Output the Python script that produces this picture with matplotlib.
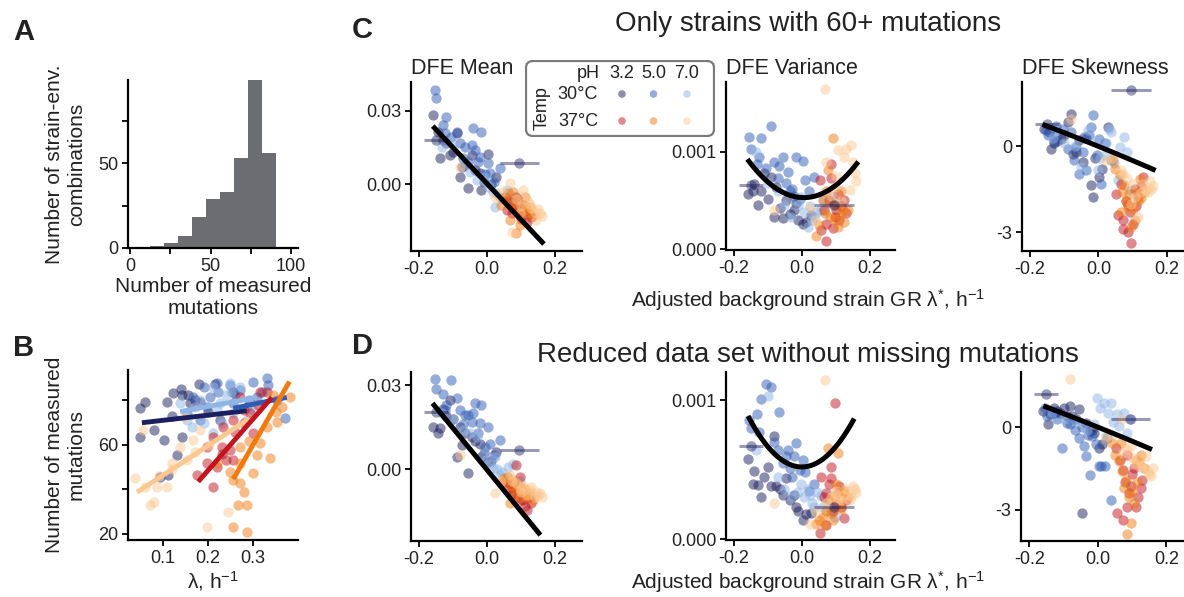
import numpy as np
import matplotlib
matplotlib.use('Agg')
import matplotlib.pyplot as plt
from matplotlib.patches import FancyBboxPatch

plt.rcParams['font.family'] = ['Liberation Sans', 'DejaVu Sans']
plt.rcParams['mathtext.default'] = 'regular'

# groups: temperature / pH
groups = ['30_3.2', '30_5.0', '30_7.0', '37_3.2', '37_5.0', '37_7.0']
colors = ['#1b1f5e', '#2f5bb5', '#8fb4e6', '#c0141f', '#f07a10', '#fcc891']

# A - histogram of number of measured mutations
hist_edges = [12.4, 21.1, 29.8, 38.5, 47.2, 55.9, 64.6, 73.3, 82.0, 90.7]
hist_counts = [1, 3, 7, 18, 29, 33, 53, 99, 56]

# B - background growth rate vs number of measured mutations
b_lam = {
    '30_3.2': [0.049, 0.060, 0.108, 0.123, 0.141, 0.156, 0.179, 0.216, 0.141, 0.101, 0.049, 0.079,
               0.182, 0.093, 0.112, 0.130, 0.160, 0.227, 0.256, 0.140, 0.170, 0.120, 0.200],
    '30_5.0': [0.190, 0.204, 0.223, 0.249, 0.271, 0.301, 0.330, 0.334, 0.308, 0.353, 0.371, 0.153,
               0.182, 0.256, 0.286, 0.197, 0.167, 0.220, 0.260, 0.320, 0.290],
    '30_7.0': [0.249, 0.271, 0.212, 0.190, 0.153, 0.182, 0.227, 0.256, 0.138, 0.301, 0.286, 0.219,
               0.241, 0.164, 0.250, 0.210, 0.170, 0.230],
    '37_3.2': [0.316, 0.330, 0.271, 0.256, 0.234, 0.212, 0.230, 0.249, 0.197, 0.219, 0.175, 0.212,
               0.279, 0.241, 0.256, 0.293, 0.197, 0.301, 0.260, 0.230, 0.280, 0.310],
    '37_5.0': [0.345, 0.382, 0.353, 0.364, 0.338, 0.308, 0.271, 0.256, 0.271, 0.279, 0.267, 0.286,
               0.256, 0.286, 0.249, 0.301, 0.219, 0.316, 0.330, 0.350, 0.290, 0.270],
    '37_7.0': [0.038, 0.060, 0.079, 0.071, 0.086, 0.119, 0.138, 0.153, 0.167, 0.182, 0.201, 0.197,
               0.245, 0.108, 0.056, 0.149, 0.120, 0.090, 0.170],
}
b_nmut = {
    '30_3.2': [76.5, 79.5, 79.5, 83.5, 82.5, 82.5, 87.4, 87.4, 63.7, 62.2, 63.4, 66.7, 79.5, 45.8,
               46.5, 55.5, 78.7, 71.2, 84.0, 85.0, 80.0, 73.0, 75.0],
    '30_5.0': [86.2, 81.7, 84.0, 87.0, 84.7, 88.5, 90.0, 87.0, 81.7, 80.2, 72.0, 74.2, 71.2, 78.7,
               77.2, 77.2, 81.7, 88.0, 83.0, 84.0, 80.0],
    '30_7.0': [87.7, 86.2, 65.2, 69.7, 71.2, 80.2, 78.7, 74.2, 78.7, 75.7, 71.2, 75.7, 82.5, 68.2,
               84.0, 86.0, 77.0, 70.0],
    '37_3.2': [84.0, 84.0, 81.7, 71.2, 68.2, 63.7, 59.3, 57.8, 51.8, 50.3, 46.5, 41.3, 75.7, 53.3,
               53.3, 74.2, 59.3, 65.2, 66.0, 56.0, 70.0, 78.0],
    '37_5.0': [82.5, 81.7, 70.5, 77.2, 54.0, 55.5, 59.3, 44.3, 42.8, 39.0, 33.0, 33.0, 23.3, 21.0,
               48.0, 47.3, 51.8, 60.7, 68.0, 75.0, 62.0, 52.0],
    '37_7.0': [45.0, 41.3, 34.5, 33.0, 41.3, 51.8, 59.3, 53.3, 62.2, 66.7, 60.0, 23.3, 30.0, 41.3,
               66.7, 72.7, 49.0, 46.0, 57.0],
}
# linear fits per group: slope, intercept, x range
b_fit_slope = [23.2, 41.2, 37.6, 231.1, 351.2, 132.5]
b_fit_icpt = [68.77, 65.95, 69.81, 2.36, -45.3, 33.19]
b_fit_lo = [0.053, 0.256, 0.138, 0.178, 0.256, 0.042]
b_fit_hi = [0.286, 0.375, 0.308, 0.342, 0.381, 0.293]

# C / D - adjusted background growth rate (shared x)
lam_star = {
    '30_3.2': [-0.139, -0.080, -0.056, -0.075, -0.022, -0.046, 0.003, -0.110, -0.129, -0.159, -0.144,
               0.027, -0.017, -0.090, -0.100, -0.065, -0.035, -0.010, 0.012, -0.120],
    '30_5.0': [-0.154, -0.149, -0.120, -0.105, -0.090, -0.041, -0.017, -0.066, -0.036, -0.022, 0.003,
               -0.071, -0.125, -0.056, 0.008, 0.037, -0.130, -0.080, -0.045, -0.028, -0.005, 0.020],
    '30_7.0': [-0.134, -0.100, -0.051, -0.031, -0.002, 0.018, 0.037, 0.057, 0.062, 0.023, 0.076, 0.096,
               -0.070, -0.010, 0.005, 0.030, 0.045, 0.085],
    '37_3.2': [0.057, 0.072, 0.086, 0.096, 0.106, 0.116, 0.072, 0.052, 0.130, 0.086,
               0.065, 0.080, 0.092, 0.100, 0.110, 0.125],
    '37_5.0': [0.062, 0.076, 0.091, 0.106, 0.121, 0.067, 0.096, 0.086, 0.042, 0.111, 0.125,
               0.050, 0.070, 0.082, 0.100, 0.115, 0.135],
    '37_7.0': [-0.080, 0.023, 0.067, 0.106, 0.130, 0.140, 0.155, 0.145, 0.116, 0.072, 0.096,
               0.040, 0.085, 0.100, 0.125, 0.150, 0.160],
}

mean_C = {
    '30_3.2': [0.0106, 0.0031, -0.0016, 0.0072, 0.0045, 0.0120, 0.0124, 0.0120, 0.0181, 0.0283, 0.0215,
               0.0031, -0.0023, 0.0208, 0.0130, 0.0080, 0.0060, 0.0010, 0.0000, 0.0170],
    '30_5.0': [0.0385, 0.0351, 0.0276, 0.0194, 0.0215, 0.0228, 0.0215, 0.0154, 0.0140, 0.0113, 0.0086,
               0.0106, 0.0208, 0.0092, 0.0045, 0.0065, 0.0240, 0.0170, 0.0160, 0.0090, 0.0040, 0.0010],
    '30_7.0': [0.0154, 0.0167, 0.0052, 0.0018, 0.0004, -0.0030, -0.0050, -0.0023, -0.0077, -0.0091,
               -0.0050, -0.0077, 0.0080, 0.0030, -0.0010, -0.0040, -0.0060, -0.0100],
    '37_3.2': [-0.0105, -0.0118, -0.0091, -0.0125, -0.0111, -0.0152, -0.0077, -0.0050, -0.0132, -0.0050,
               -0.0070, -0.0100, -0.0110, -0.0140, -0.0090, -0.0120],
    '37_5.0': [-0.0037, -0.0030, -0.0064, -0.0084, -0.0118, -0.0145, -0.0166, -0.0200, -0.0084, -0.0050,
               -0.0091, -0.0060, -0.0080, -0.0100, -0.0120, -0.0100, -0.0130],
    '37_7.0': [0.0072, -0.0050, 0.0004, -0.0023, -0.0098, -0.0111, -0.0118, -0.0145, -0.0064, -0.0193,
               -0.0118, -0.0030, -0.0060, -0.0090, -0.0080, -0.0100, -0.0130],
}
var_C = {
    '30_3.2': [0.00067, 0.00033, 0.00032, 0.00064, 0.00040, 0.00050, 0.00026, 0.00078, 0.00045, 0.00057,
               0.00060, 0.00035, 0.00047, 0.00074, 0.00052, 0.00042, 0.00036, 0.00030, 0.00028, 0.00060],
    '30_5.0': [0.00115, 0.00103, 0.00114, 0.00083, 0.00127, 0.00079, 0.00095, 0.00085, 0.00060, 0.00055,
               0.00091, 0.00073, 0.00095, 0.00095, 0.00071, 0.00074, 0.00088, 0.00090, 0.00068, 0.00062,
               0.00052, 0.00060],
    '30_7.0': [0.00100, 0.00068, 0.00045, 0.00033, 0.00054, 0.00023, 0.00033, 0.00040, 0.00050, 0.00044,
               0.00047, 0.00047, 0.00060, 0.00045, 0.00038, 0.00030, 0.00038, 0.00055],
    '37_3.2': [0.00020, 0.00026, 0.00073, 0.00033, 0.00057, 0.00044, 0.00008, 0.00071, 0.00037, 0.00088,
               0.00040, 0.00050, 0.00022, 0.00040, 0.00030, 0.00050],
    '37_5.0': [0.00050, 0.00081, 0.00114, 0.00023, 0.00040, 0.00037, 0.00030, 0.00047, 0.00013, 0.00035,
               0.00028, 0.00025, 0.00060, 0.00033, 0.00045, 0.00060, 0.00040],
    '37_7.0': [0.00040, 0.00042, 0.00165, 0.00102, 0.00103, 0.00061, 0.00078, 0.00107, 0.00049, 0.00090,
               0.00064, 0.00030, 0.00055, 0.00075, 0.00095, 0.00090, 0.00070],
}
skew_C = {
    '30_3.2': [-0.08, 1.14, 0.21, -0.26, -1.36, -0.55, -1.07, 0.27, 0.10, 0.60, 0.50, 0.68, -1.77, 0.85,
               0.40, -0.20, 0.30, -0.40, -0.80, 0.20],
    '30_5.0': [0.56, 0.40, 0.44, 0.62, -0.08, 0.33, 1.08, -0.02, -0.84, 0.68, 0.27, -0.49, 0.70, -0.96,
               -1.31, -0.49, 0.20, 0.50, -0.20, 0.40, -0.30, 0.10],
    '30_7.0': [0.30, 0.10, -0.72, 0.56, -0.84, -0.30, 0.50, -1.19, -0.02, 0.10, 0.33, -1.54,
               0.00, 0.20, -0.40, 0.60, -0.60, -0.20],
    '37_3.2': [-2.41, -2.59, -2.06, -3.38, -1.48, -1.77, -2.88, -1.65, -1.07, -3.00,
               -1.30, -1.90, -2.30, -2.70, -2.10, -1.40],
    '37_5.0': [-1.01, -1.36, -1.65, -2.59, -1.13, -2.30, -2.82, -2.12, -0.49, -1.54, -1.80,
               -0.80, -1.60, -1.90, -2.20, -1.90, -1.60],
    '37_7.0': [0.97, -0.49, -0.84, -1.77, -1.31, -1.54, -1.48, -1.60, -2.47, -0.96, -2.00,
               -0.40, -1.10, -1.30, -1.60, -1.20, -1.40],
}

mean_D = {
    '30_3.2': [0.0146, 0.0152, -0.0012, 0.0087, 0.0092, 0.0116, 0.0027, 0.0247, 0.0216, 0.0150, 0.0128,
               0.0063, 0.0045, 0.0045, 0.0180, 0.0130, 0.0100, 0.0060, 0.0030, 0.0190],
    '30_5.0': [0.0321, 0.0285, 0.0229, 0.0318, 0.0253, 0.0200, 0.0229, 0.0193, 0.0235, 0.0164, 0.0152,
               0.0160, 0.0210, 0.0193, 0.0092, 0.0104, 0.0270, 0.0210, 0.0170, 0.0130, 0.0080, 0.0050],
    '30_7.0': [0.0200, 0.0180, 0.0130, 0.0116, 0.0033, 0.0004, -0.0020, -0.0026, 0.0009, 0.0045, 0.0020,
               -0.0040, 0.0140, 0.0060, 0.0020, 0.0000, -0.0010, -0.0050],
    '37_3.2': [-0.0074, -0.0091, 0.0015, -0.0026, -0.0109, -0.0145, -0.0062, -0.0040, -0.0120, -0.0062,
               -0.0050, -0.0080, -0.0100, -0.0110, -0.0130, -0.0100],
    '37_5.0': [-0.0026, -0.0038, -0.0056, -0.0079, -0.0090, -0.0121, -0.0097, -0.0050, -0.0050, -0.0070,
               -0.0085, -0.0030, -0.0060, -0.0080, -0.0070, -0.0100, -0.0110],
    '37_7.0': [0.0051, -0.0085, -0.0020, -0.0060, -0.0062, -0.0097, -0.0085, -0.0080, -0.0091, -0.0040,
               -0.0070, -0.0040, -0.0050, -0.0080, -0.0075, -0.0090, -0.0100],
}
var_D = {
    '30_3.2': [0.00049, 0.00074, 0.00032, 0.00038, 0.00032, 0.00044, 0.00014, 0.00045, 0.00039, 0.00058,
               0.00040, 0.00019, 0.00023, 0.00038, 0.00052, 0.00036, 0.00028, 0.00020, 0.00018, 0.00030],
    '30_5.0': [0.00086, 0.00080, 0.00101, 0.00112, 0.00110, 0.00064, 0.00069, 0.00092, 0.00051, 0.00060,
               0.00057, 0.00064, 0.00077, 0.00055, 0.00048, 0.00040, 0.00090, 0.00070, 0.00060, 0.00045,
               0.00050, 0.00035],
    '30_7.0': [0.00064, 0.00103, 0.00036, 0.00031, 0.00040, 0.00036, 0.00023, 0.00031, 0.00023, 0.00032,
               0.00028, 0.00016, 0.00045, 0.00034, 0.00030, 0.00026, 0.00034, 0.00020],
    '37_3.2': [0.00045, 0.00033, 0.00052, 0.00098, 0.00033, 0.00023, 0.00010, 0.00004, 0.00028, 0.00044,
               0.00030, 0.00040, 0.00020, 0.00025, 0.00038, 0.00015],
    '37_5.0': [0.00016, 0.00066, 0.00014, 0.00062, 0.00033, 0.00010, 0.00031, 0.00019, 0.00011, 0.00025,
               0.00035, 0.00014, 0.00020, 0.00028, 0.00040, 0.00022, 0.00030],
    '37_7.0': [0.00026, 0.00011, 0.00115, 0.00028, 0.00036, 0.00028, 0.00036, 0.00031, 0.00028, 0.00026,
               0.00033, 0.00020, 0.00030, 0.00035, 0.00032, 0.00038, 0.00033],
}
skew_D = {
    '30_3.2': [0.46, 0.77, 0.64, 0.40, -0.15, -3.10, -0.75, 0.50, 0.71, 0.60, 0.10, -0.40, -0.09, 0.40,
               0.70, 0.30, 0.15, -0.20, -0.60, 0.60],
    '30_5.0': [0.71, 0.40, 0.28, -0.75, 0.16, -0.69, -0.33, -0.09, -1.06, -1.73, -1.42, 0.30, 0.50, -0.40,
               -1.42, -2.64, 0.60, 0.10, 0.00, -0.30, -0.60, -1.40],
    '30_7.0': [0.55, 0.30, 0.20, -0.10, 1.07, 0.89, 0.89, 0.46, 0.04, -0.33, 0.52, 0.30,
               0.30, 0.10, 0.70, 0.50, 0.20, -0.20],
    '37_3.2': [-3.13, -3.37, -1.00, -2.15, -1.48, -2.52, -1.55, -0.75, -1.91, -2.88,
               -1.20, -2.00, -2.40, -1.70, -2.90, -2.20],
    '37_5.0': [-1.24, -2.21, -2.52, -2.76, -1.24, -0.57, -3.49, -3.86, -0.57, -1.18, -1.00,
               -1.00, -1.60, -1.90, -2.30, -2.00, -1.50],
    '37_7.0': [1.74, -0.40, 0.28, -1.30, -1.48, -1.06, -1.79, -1.60, -1.20, -0.94, -0.70,
               -0.30, -0.80, -1.10, -1.40, -1.70, -1.50],
}

# strains with large uncertainty in lambda* (30C, pH 3.2)
eb_lam = [-0.150, 0.095]
eb_err = [0.035, 0.058]
eb_mean_C = [0.018, 0.0088]
eb_var_C = [0.00066, 0.00045]
eb_skew_C = [0.79, 1.98]
eb_mean_D = [0.0203, 0.0069]
eb_var_D = [0.00067, 0.00023]
eb_skew_D = [1.19, 0.28]

# polynomial fits (highest power first) and their x ranges
fit_mean_C = [-0.147, 0.0002]
fit_var_C = [0.0145, -0.00017, 0.00053]
fit_skew_C = [-1.0, -4.85, 0.0]
fit_range_C = [(-0.155, 0.162), (-0.155, 0.161), (-0.157, 0.161)]
fit_mean_D = [-0.148, -0.0002]
fit_var_D = [0.0148, 0.0, 0.00052]
fit_skew_D = [-1.0, -5.0, 0.0]
fit_range_D = [(-0.156, 0.152), (-0.154, 0.150), (-0.152, 0.151)]

W, H = 1184, 597
fig = plt.figure(figsize=(W / 100, H / 100), dpi=100)
TXT = '#222222'


def add_ax(l, t, r, b):
    return fig.add_axes([l / W, 1 - b / H, (r - l) / W, (b - t) / H])


def style(ax):
    for s in ['top', 'right']:
        ax.spines[s].set_visible(False)
    for s in ['left', 'bottom']:
        ax.spines[s].set_linewidth(1.6)
    ax.tick_params(direction='out', length=4, width=1.3, labelsize=13, labelcolor=TXT, pad=3)


def ftext(x, y, s, **kw):
    fig.text(x / W, 1 - y / H, s, color=TXT, **kw)


# ---- A ----
ax = add_ax(128, 80, 298, 248)
ax.bar(hist_edges[:-1], hist_counts, width=np.diff(hist_edges), align='edge', color='#6c6d70')
ax.set_xlim(-1.2, 104.3)
ax.set_ylim(0, 99)
ax.set_xticks([0, 25, 50, 75, 100], ['0', '', '50', '', '100'])
ax.set_yticks([0, 25, 50, 75], ['0', '', '50', ''])
style(ax)
ax.set_ylabel('Number of strain-env.\ncombinations', fontsize=15, color=TXT, labelpad=9)
ax.set_xlabel('Number of measured\nmutations', fontsize=15, color=TXT, labelpad=2)

# ---- B ----
ax = add_ax(128, 370, 298, 540)
for g, c in zip(groups, colors):
    ax.scatter(b_lam[g], b_nmut[g], s=55, color=c, alpha=0.5, lw=0)
for i in [0, 2, 1, 5, 3, 4]:
    xs = np.array([b_fit_lo[i], b_fit_hi[i]])
    ax.plot(xs, b_fit_slope[i] * xs + b_fit_icpt[i], color=colors[i], lw=3.5, solid_capstyle='butt')
ax.set_xlim(0.022, 0.40)
ax.set_ylim(17.3, 93.7)
ax.set_xticks([0.1, 0.2, 0.3], ['0.1', '0.2', '0.3'])
ax.set_yticks([20, 40, 60, 80], ['20', '', '60', ''])
style(ax)
ax.set_ylabel('Number of measured\nmutations', fontsize=15, color=TXT, labelpad=9)
ax.set_xlabel('λ, h$^{-1}$', fontsize=15, color=TXT, labelpad=2)


# ---- C / D ----
def scatter_panel(box, ydata, eb_y, fit, frange, xlim, ylim, yticks, ylabels, title=None):
    ax = add_ax(*box)
    for g, c in zip(groups, colors):
        ax.scatter(lam_star[g], ydata[g], s=55, color=c, alpha=0.5, lw=0)
    ax.errorbar(eb_lam, eb_y, xerr=eb_err, fmt='o', color=colors[0], alpha=0.45, ms=7.5,
                mec='none', elinewidth=2.2, capsize=0)
    xs = np.linspace(frange[0], frange[1], 60)
    ax.plot(xs, np.polyval(fit, xs), color='black', lw=3.6, zorder=5)
    ax.set_xlim(*xlim)
    ax.set_ylim(*ylim)
    ax.set_xticks([-0.2, 0.0, 0.2], ['-0.2', '0.0', '0.2'])
    ax.set_yticks(yticks, ylabels)
    style(ax)
    if title:
        ax.set_title(title, loc='left', fontsize=15.5, color=TXT, pad=6)
    return ax


scatter_panel((411, 82, 582, 251), mean_C, eb_mean_C, fit_mean_C, fit_range_C[0],
              (-0.224, 0.279), (-0.0272, 0.0417), [0.0, 0.03], ['0.00', '0.03'], 'DFE Mean')
scatter_panel((726, 82, 895, 250), var_C, eb_var_C, fit_var_C, fit_range_C[1],
              (-0.222, 0.273), (-0.00001, 0.00172), [0.0, 0.001], ['0.000', '0.001'], 'DFE Variance')
scatter_panel((1022, 82, 1184, 251), skew_C, eb_skew_C, fit_skew_C, fit_range_C[2],
              (-0.224, 0.251), (-3.66, 2.25), [-3, 0], ['-3', '0'], 'DFE Skewness')

scatter_panel((411, 372, 582, 541), mean_D, eb_mean_D, fit_mean_D, fit_range_D[0],
              (-0.224, 0.279), (-0.0255, 0.0347), [0.0, 0.03], ['0.00', '0.03'])
scatter_panel((726, 372, 895, 540), var_D, eb_var_D, fit_var_D, fit_range_D[1],
              (-0.222, 0.273), (-0.000007, 0.001205), [0.0, 0.001], ['0.000', '0.001'])
scatter_panel((1021, 372, 1184, 541), skew_D, eb_skew_D, fit_skew_D, fit_range_D[2],
              (-0.224, 0.251), (-4.13, 2.0), [-3, 0], ['-3', '0'])

# ---- legend ----
lg = add_ax(525, 60, 715, 137)
lg.set_xlim(0, 190)
lg.set_ylim(77, 0)
lg.axis('off')
lg.add_patch(FancyBboxPatch((1, 1), 188, 75, boxstyle='round,pad=0,rounding_size=7',
                            fc='white', ec='#7a7a7a', lw=1.6))
lg.text(75, 13, 'pH', ha='right', va='center', fontsize=13, color=TXT)
ph_x = [97, 128.5, 162]
for px, lab in zip(ph_x, ['3.2', '5.0', '7.0']):
    lg.text(px, 13, lab, ha='center', va='center', fontsize=13, color=TXT)
for row, (ty, lab) in enumerate([(34, '30°C'), (61, '37°C')]):
    lg.text(73, ty, lab, ha='right', va='center', fontsize=13, color=TXT)
    lg.scatter(ph_x, [ty] * 3, s=30, color=colors[row * 3:row * 3 + 3], alpha=0.5, lw=0)
lg.text(17.5, 48.5, 'Temp', rotation=90, ha='center', va='center', fontsize=13, color=TXT)

# ---- texts ----
for x, y, lab in [(24, 32, 'A'), (24, 348, 'B'), (362, 30, 'C'), (362, 346, 'D')]:
    ftext(x, y, lab, fontsize=21, fontweight='bold', ha='center', va='center')
ftext(808, 24, 'Only strains with 60+ mutations', fontsize=20, ha='center', va='center')
ftext(808, 355, 'Reduced data set without missing mutations', fontsize=20, ha='center', va='center')
ftext(808, 300, 'Adjusted background strain GR λ$^{*}$, h$^{-1}$', fontsize=15, ha='center', va='center')
ftext(808, 582, 'Adjusted background strain GR λ$^{*}$, h$^{-1}$', fontsize=15, ha='center', va='center')

fig.savefig('out.png', dpi=100)
